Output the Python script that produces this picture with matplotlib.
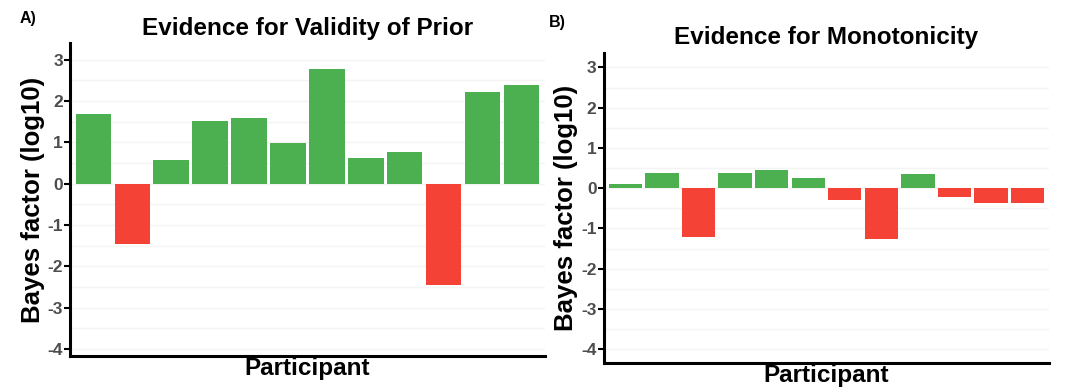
import matplotlib
matplotlib.use('Agg')
import matplotlib.pyplot as plt
import numpy as np

plt.rcParams['font.family'] = ['Liberation Sans', 'DejaVu Sans']
plt.rcParams['axes.unicode_minus'] = False

participants = list(range(1, 13))
prior_bf = [1.69, -1.45, 0.58, 1.51, 1.58, 0.98, 2.77, 0.62, 0.76, -2.46, 2.22, 2.38]
mono_bf = [0.10, 0.37, -1.21, 0.38, 0.45, 0.25, -0.29, -1.26, 0.35, -0.22, -0.38, -0.38]

GREEN = '#4caf50'
RED = '#f44336'

fig = plt.figure(figsize=(10.72, 3.89), dpi=100)

def panel(rect, vals, title, letter, letter_xy, title_y, ylim):
    ax = fig.add_axes(rect)
    cols = [GREEN if v > 0 else RED for v in vals]
    ax.bar(participants, vals, width=0.91, color=cols, zorder=3)
    ax.set_xlim(0.4, 12.6)
    ax.set_ylim(*ylim)
    ax.set_yticks(range(-4, 4))
    for y in np.arange(-4, 3.6, 0.5):
        ax.axhline(y, color='#f4f4f4', lw=1.0, zorder=0)
    ax.set_xticks([])
    for s in ['top', 'right']:
        ax.spines[s].set_visible(False)
    for s in ['left', 'bottom']:
        ax.spines[s].set_linewidth(2.2)
        ax.spines[s].set_color('black')
    ax.tick_params(axis='y', length=4, width=1.5, labelsize=12.5, labelcolor='#4d4d4d', pad=1)
    for lb in ax.get_yticklabels():
        lb.set_fontweight('bold')
    ax.set_ylabel('Bayes factor (log10)', fontsize=18.5, fontweight='bold', labelpad=2)
    ax.set_xlabel('Participant', fontsize=17.5, fontweight='bold', labelpad=1)
    fig.text((rect[0] + rect[0] + rect[2]) / 2, title_y, title, ha='center', va='center',
             fontsize=17.5, fontweight='bold')
    fig.text(letter_xy[0], letter_xy[1], letter, ha='left', va='center',
             fontsize=11.5, fontweight='bold')
    return ax

panel([0.0653, 0.085, 0.443, 0.804], prior_bf, 'Evidence for Validity of Prior', 'A)',
      (0.018, 0.953), 0.928, (-4.17, 3.4))
panel([0.563, 0.067, 0.416, 0.797], mono_bf, 'Evidence for Monotonicity', 'B)',
      (0.512, 0.943), 0.903, (-4.34, 3.36))

fig.savefig('out.png', dpi=100)
